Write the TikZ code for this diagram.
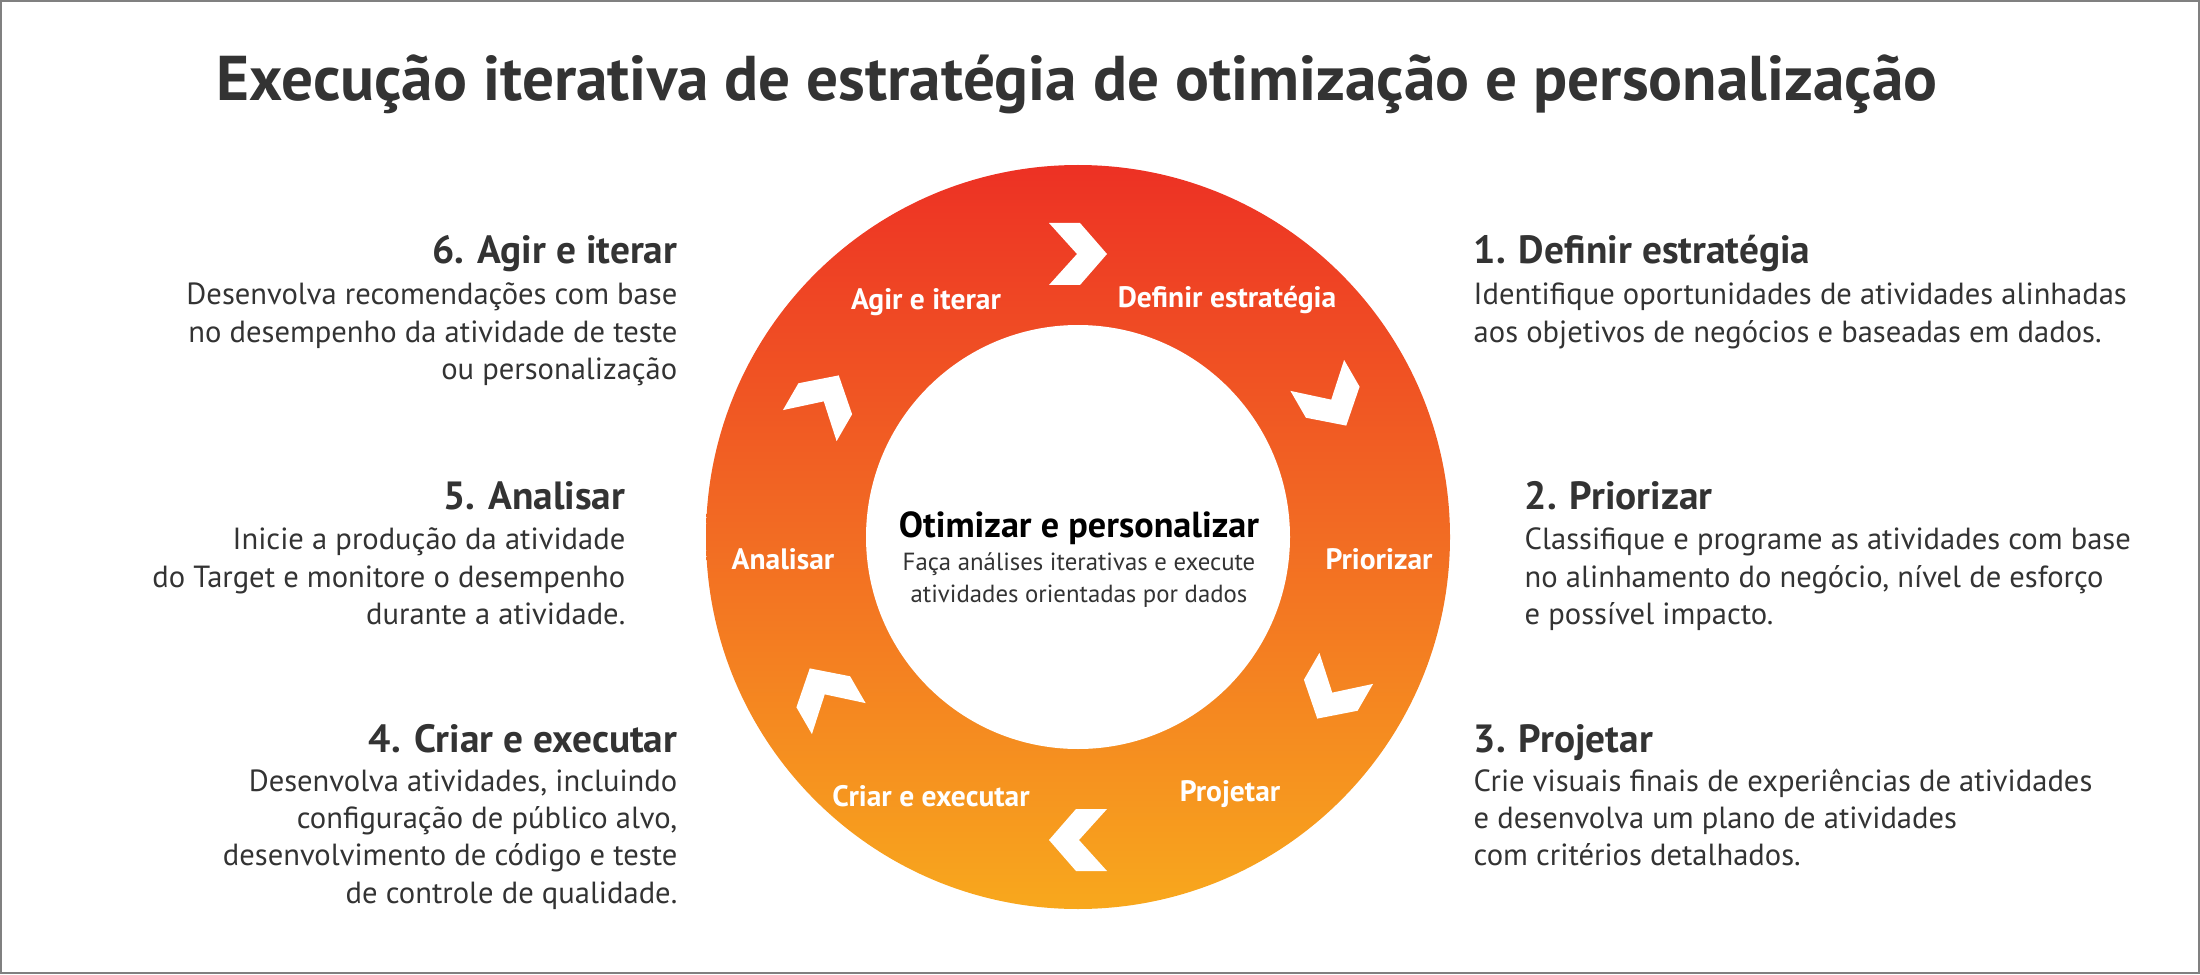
\documentclass[tikz,border=0pt]{standalone}
\usepackage{fontspec}
\setmainfont{PT Sans}
\usetikzlibrary{positioning}

\definecolor{textgray}{RGB}{51,51,51}
\definecolor{ringtop}{RGB}{237,49,36}
\definecolor{ringmid}{RGB}{242,108,35}
\definecolor{ringbot}{RGB}{248,168,29}
\definecolor{framegray}{RGB}{128,128,128}

\begin{document}
\begin{tikzpicture}[
    x=0.1mm, y=0.1mm,
    title/.style={font=\fontsize{18}{21}\selectfont\bfseries, text=textgray, inner sep=0pt},
    head/.style={font=\fontsize{11.2}{13}\selectfont\bfseries, text=textgray, inner sep=0pt},
    desc/.style={font=\fontsize{8.7}{10.6}\selectfont, text=textgray, inner sep=0pt},
    ringlabel/.style={font=\fontsize{8.4}{10}\selectfont\bfseries, text=white, inner sep=0pt},
    centertitle/.style={font=\fontsize{10.3}{12}\selectfont\bfseries, text=black, inner sep=0pt},
    centersub/.style={font=\fontsize{7.05}{9.3}\selectfont, text=textgray, inner sep=0pt, align=center}
  ]
    \useasboundingbox (0,0) rectangle (2200,974);
    \draw[framegray, line width=0.8pt] (1,1) rectangle (2199,973);

    \node[title, anchor=base] (title) at (1077,873) {Execução iterativa de estratégia de otimização e personalização};

    % ring
    \coordinate (c) at (1078,437);
    \shade[top color=ringtop, bottom color=ringbot, middle color=ringmid] (c) circle[radius=372];
    \fill[white] (c) circle[radius=212];

    % chevrons
    \foreach \a in {90,30,-30,-90,-150,150}
      \fill[white, shift={(1078,427)}, shift={(\a:293)}, rotate={\a-90}]
        (-29,31) -- (2,31) -- (29,0) -- (2,-31) -- (-29,-31) -- (-1,0) -- cycle;

    % labels on the ring
    \node[ringlabel] (rdefine) at (1227,674) {Definir estratégia};
    \node[ringlabel] (rprior) at (1379,415) {Priorizar};
    \node[ringlabel] (rdesign) at (1230,180) {Projetar};
    \node[ringlabel] (rbuild) at (931,178) {Criar e executar};
    \node[ringlabel] (ranalyze) at (783,415) {Analisar};
    \node[ringlabel] (ract) at (926,672) {Agir e iterar};

    \node[centertitle] (ctitle) at (1079,446) {Otimizar e personalizar};
    \node[centersub, below=2.6pt of ctitle.base] (csub) {\strut Faça análises iterativas e execute\\atividades orientadas por dados};

    % left side
    \node[head, anchor=base east] (h6) at (678,710) {6. Agir e iterar};
    \node[desc, align=right, below left=4pt and 0pt of h6.base east] (d6)
      {\strut Desenvolva recomendações com base\\no desempenho da atividade de teste\\ou personalização};
    \node[head, anchor=base east] (h5) at (626,465) {5. Analisar};
    \node[desc, align=right, below left=4pt and 0pt of h5.base east] (d5)
      {\strut Inicie a produção da atividade\\do Target e monitore o desempenho\\durante a atividade.};
    \node[head, anchor=base east] (h4) at (678,222) {4. Criar e executar};
    \node[desc, align=right, below left=3.6pt and 0pt of h4.base east] (d4)
      {\strut Desenvolva atividades, incluindo\\configuração de público alvo,\\desenvolvimento de código e teste\\de controle de qualidade.};

    % right side
    \node[head, anchor=base west] (h1) at (1473,710) {1. Definir estratégia};
    \node[desc, align=left, below right=4pt and 0pt of h1.base west] (d1)
      {\strut Identifique oportunidades de atividades alinhadas\\aos objetivos de negócios e baseadas em dados.};
    \node[head, anchor=base west] (h2) at (1524,465) {2. Priorizar};
    \node[desc, align=left, below right=4pt and 0pt of h2.base west] (d2)
      {\strut Classifique e programe as atividades com base\\no alinhamento do negócio, nível de esforço\\e possível impacto.};
    \node[head, anchor=base west] (h3) at (1473,222) {3. Projetar};
    \node[desc, align=left, below right=3.6pt and 0pt of h3.base west] (d3)
      {\strut Crie visuais finais de experiências de atividades\\e desenvolva um plano de atividades\\com critérios detalhados.};
  \end{tikzpicture}
\end{document}
